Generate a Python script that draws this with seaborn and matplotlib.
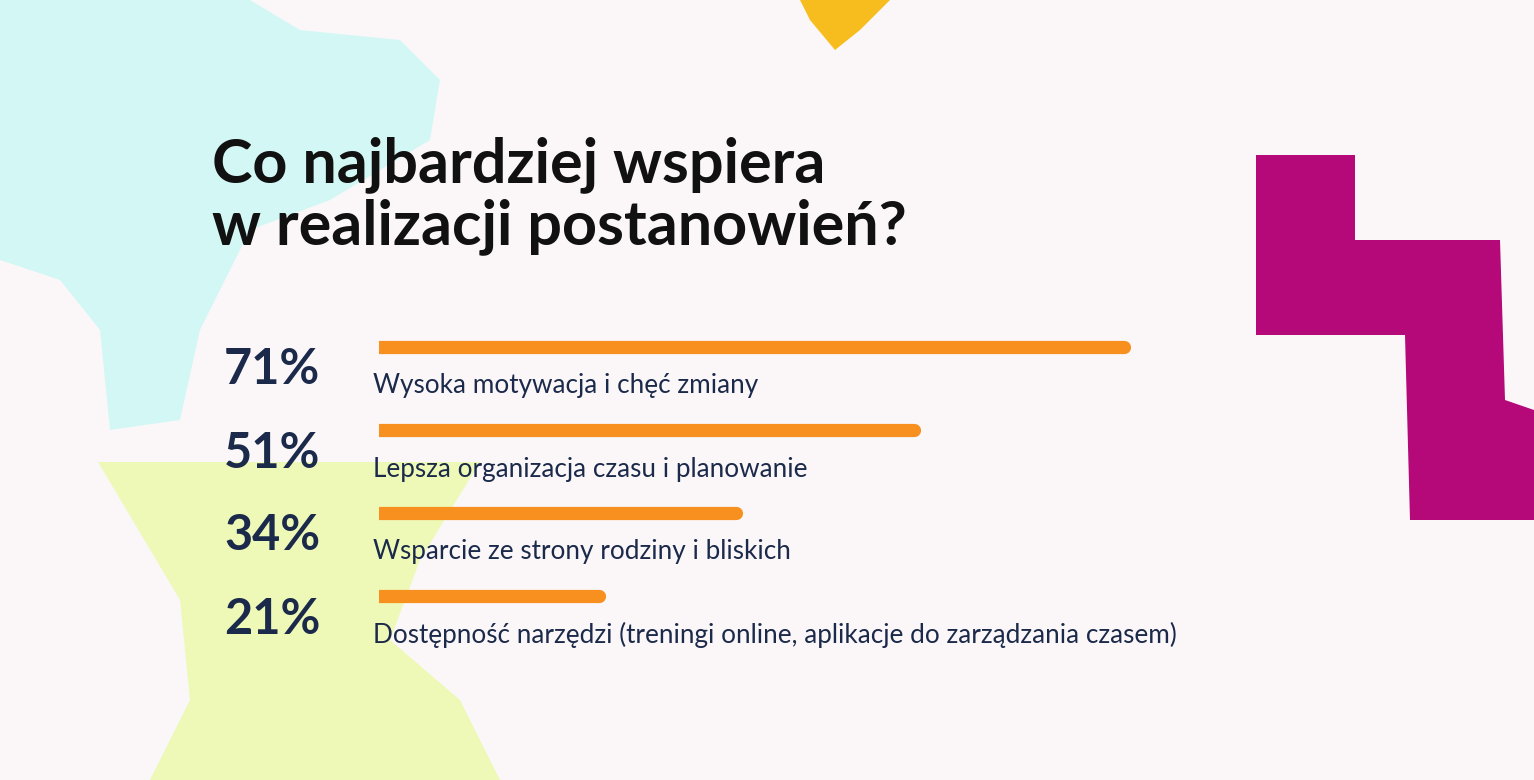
import matplotlib.pyplot as plt
import matplotlib.patches as mpatches
import seaborn as sns

percents = [71, 51, 34, 21]
labels = [
    "Wysoka motywacja i chęć zmiany",
    "Lepsza organizacja czasu i planowanie",
    "Wsparcie ze strony rodziny i bliskich",
    "Dostępność narzędzi (treningi online, aplikacje do zarządzania czasem)",
]

sns.set_theme(style="white")
plt.rcParams['font.family'] = ['Lato', 'DejaVu Sans']

W, H = 1534, 780
bg = '#fbf7f8'
fig = plt.figure(figsize=(W / 100, H / 100), dpi=100, facecolor=bg)

# decorative background shapes, in pixel coordinates
deco = fig.add_axes([0, 0, 1, 1])
deco.set_xlim(0, W)
deco.set_ylim(H, 0)
deco.axis('off')
deco.set_facecolor(bg)
cyan = [(0, 0), (250, 0), (300, 30), (400, 40), (440, 80), (430, 140), (330, 200),
        (250, 230), (200, 330), (180, 420), (110, 430), (100, 330), (60, 280),
        (0, 260)]
deco.add_patch(mpatches.Polygon(cyan, closed=True, color='#d3f7f5', lw=0))
green = [(98, 462), (480, 462), (420, 560), (390, 640), (460, 700), (500, 780),
         (150, 780), (190, 700), (180, 600), (98, 462)]
deco.add_patch(mpatches.Polygon(green, closed=True, color='#eef9b8', lw=0))
magenta = [(1256, 155), (1355, 155), (1355, 240), (1500, 240), (1505, 400),
           (1534, 410), (1534, 520), (1410, 520), (1405, 335), (1256, 335)]
deco.add_patch(mpatches.Polygon(magenta, closed=True, color='#b5097a', lw=0))
yellow = [(800, 0), (890, 0), (860, 30), (835, 50), (810, 20)]
deco.add_patch(mpatches.Polygon(yellow, closed=True, color='#f7bd1e', lw=0))

fig.text(212 / W, 1 - 136 / H, "Co najbardziej wspiera\nw realizacji postanowień?",
         fontsize=44, fontweight='bold', color='#111111', va='top', ha='left',
         linespacing=1.12)

# bar axes: x 0..100 maps to pixels starting at x0
px_per = (1124 - 379) / 71
x0 = 379
ax = fig.add_axes([x0 / W, 0, 100 * px_per / W, 1])
ax.set_xlim(0, 100)
ax.set_ylim(H, 0)
ax.axis('off')
ax.patch.set_alpha(0)

bar_y = [347, 430, 513, 596]
ax.hlines(bar_y, 0, percents, color='#f7901e', lw=9.5, capstyle='round')
for y, p, lab in zip(bar_y, percents, labels):
    fig.text(373 / W, 1 - (y + 39) / H, lab, fontsize=18.8, color='#1b2a4a',
             va='center', ha='left')
    fig.text(224 / W, 1 - (y + 23) / H, f"{p}%", fontsize=35, fontweight='bold',
             color='#1b2a4a', va='center', ha='left')

fig.savefig('out.png', dpi=100, facecolor=bg)
